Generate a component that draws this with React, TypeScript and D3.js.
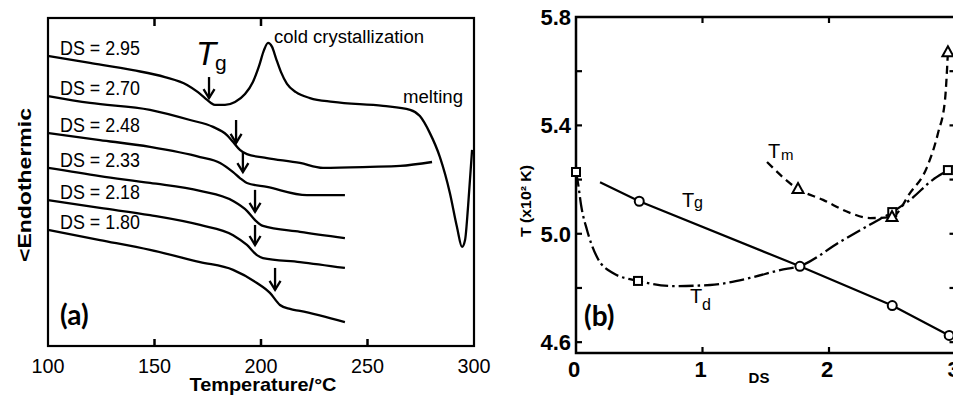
import * as d3 from "d3";

// ---------- (a) DSC traces: temperature (°C), heat flow (arb. units, traces offset) ----------
const dsLabels = ["DS = 2.95", "DS = 2.70", "DS = 2.48", "DS = 2.33", "DS = 2.18", "DS = 1.80"];

const trace295: [number, number][] = [
  [100, 88.4], [119.7, 86.3], [139.9, 84.1], [154.9, 82.0], [165.3, 79.6], [170.4, 77.4],
  [173.7, 75.6], [176.5, 74.1], [178.4, 73.5], [183.1, 73.5], [187.8, 74.4], [192.5, 76.8],
  [196.2, 80.5], [199.1, 85.4], [201.4, 90.2], [203.3, 92.4], [205.2, 91.2], [207.0, 87.8],
  [209.4, 83.5], [212.2, 79.9], [216.4, 77.4], [223.0, 75.6], [233.8, 74.4], [257.3, 73.2],
  [270.0, 72.0], [274.6, 70.1], [279.3, 64.9], [284.0, 57.6], [288.7, 46.6], [292.0, 36.3],
  [294.4, 30.2], [295.8, 32.3], [297.2, 42.4], [299.1, 59.8],
];
const trace270: [number, number][] = [
  [100, 76.2], [119.7, 74.1], [147.9, 72.0], [166.7, 68.9], [177.5, 66.8], [184.0, 64.3],
  [186.9, 62.2], [190.1, 59.8], [193.4, 58.5], [202.8, 57.3], [218.3, 55.8], [229.1, 54.3],
  [251.2, 54.6], [265.3, 54.9], [280.3, 56.1],
];
const trace248: [number, number][] = [
  [100, 64.9], [124.4, 62.8], [147.9, 60.7], [171.4, 57.6], [180.8, 55.8], [186.9, 53.0],
  [190.1, 51.2], [193.4, 49.7], [202.8, 48.5], [221.6, 46.0], [239.4, 46.0],
];
const trace233: [number, number][] = [
  [100, 54.3], [124.4, 51.8], [147.9, 49.7], [171.4, 47.3], [186.9, 44.2], [193.4, 41.2],
  [197.2, 38.4], [200.9, 36.6], [218.3, 34.8], [239.4, 32.9],
];
const trace218: [number, number][] = [
  [100, 44.5], [124.4, 42.1], [147.9, 39.9], [171.4, 36.9], [186.9, 33.8], [193.4, 30.8],
  [198.1, 27.7], [200.9, 26.8], [218.3, 25.6], [239.4, 23.8],
];
const trace180: [number, number][] = [
  [100, 35.4], [124.4, 32.3], [147.9, 29.3], [171.4, 25.6], [186.9, 23.2], [198.1, 19.2],
  [204.2, 16.2], [208.9, 12.5], [213.6, 11.3], [218.3, 10.7], [239.4, 7.3],
];
const traces = [trace295, trace270, trace248, trace233, trace218, trace180];

// Tg arrows: temperature, top, tip
const tgArrows: [number, number, number][] = [
  [175.6, 82.0, 75.6], [188.3, 68.9, 61.9], [191.5, 59.1, 53.0],
  [197.2, 47.6, 40.9], [197.2, 36.9, 30.8], [206.6, 23.8, 17.1],
];
const tempTicks = [100, 150, 200, 250, 300];

// ---------- (b) transition temperatures vs DS (T in 10^2 K) ----------
const tgPoints: [number, number][] = [[0.5, 5.12], [1.77, 4.88], [2.5, 4.735], [2.95, 4.625]];
const tgLine: [number, number][] = [[0.19, 5.19], [0.5, 5.12], [1.77, 4.88], [2.5, 4.735], [2.95, 4.625], [3.05, 4.605]];
const tdPoints: [number, number][] = [[0, 5.228], [0.49, 4.826], [2.5, 5.08], [2.94, 5.235]];
const tdCurve: [number, number][] = [
  [0, 5.228], [0.016, 5.187], [0.04, 5.106], [0.087, 5.014], [0.166, 4.914], [0.292, 4.855],
  [0.49, 4.826], [0.767, 4.807], [1.06, 4.811], [1.375, 4.837], [1.613, 4.866], [1.771, 4.881],
  [2.087, 4.97], [2.348, 5.04], [2.5, 5.08], [2.64, 5.125], [2.82, 5.199], [2.94, 5.235], [3.05, 5.27],
];
const tmPoints: [number, number][] = [[1.755, 5.165], [2.498, 5.062], [2.94, 5.67]];
const tmCurve: [number, number][] = [
  [1.51, 5.265], [1.755, 5.165], [1.953, 5.125], [2.166, 5.077], [2.324, 5.058], [2.498, 5.062],
  [2.64, 5.15], [2.775, 5.246], [2.862, 5.372], [2.917, 5.494], [2.94, 5.67],
];
const dsTicks = [0, 1, 2, 3];
const tTickLabels = [4.6, 5.0, 5.4, 5.8];
const tMinorTicks = [4.6, 4.8, 5.0, 5.2, 5.4, 5.6];

export default function App() {
  const xA = d3.scaleLinear().domain([100, 300]).range([48, 474]);
  const yA = d3.scaleLinear().domain([0, 100]).range([346, 18]);
  const xB = d3.scaleLinear().domain([0, 3]).range([576, 955.5]);
  const yB = d3.scaleLinear().domain([4.56, 5.8]).range([353, 17]);

  const lineA = d3.line<[number, number]>().x((d) => xA(d[0])).y((d) => yA(d[1])).curve(d3.curveMonotoneX);
  const lineB = d3.line<[number, number]>().x((d) => xB(d[0])).y((d) => yB(d[1])).curve(d3.curveMonotoneX);
  const lineBStraight = d3.line<[number, number]>().x((d) => xB(d[0])).y((d) => yB(d[1]));

  const fa = "'Liberation Sans', Arial, sans-serif";
  const tri = (cx: number, cy: number) => `M${cx},${cy - 6} L${cx + 5.5},${cy + 4} L${cx - 5.5},${cy + 4} Z`;

  return (
    <svg width={953} height={396} style={{ position: "absolute", left: 0, top: 0, background: "#fff" }}>
      {/* ---------------- panel (a) ---------------- */}
      <rect x={48} y={18} width={426} height={328} fill="none" stroke="#000" strokeWidth={2.2} />
      {tempTicks.slice(1, 4).map((t) => (
        <line key={"b" + t} x1={xA(t)} x2={xA(t)} y1={346} y2={339} stroke="#000" strokeWidth={2.5} />
      ))}
      {[150, 200].map((t) => (
        <line key={"t" + t} x1={xA(t)} x2={xA(t)} y1={18} y2={26} stroke="#000" strokeWidth={2.5} />
      ))}
      {tempTicks.map((t) => (
        <text key={t} x={xA(t)} y={373} textAnchor="middle" fontFamily={fa} fontSize={21}
          textLength={33} lengthAdjust="spacingAndGlyphs">{t}</text>
      ))}
      <text x={263} y={391} textAnchor="middle" fontFamily={fa} fontSize={19} fontWeight="bold"
        textLength={147} lengthAdjust="spacingAndGlyphs">Temperature/°C</text>
      <text transform="translate(31,185) rotate(-90)" textAnchor="middle" fontFamily={fa} fontSize={18}
        fontWeight="bold" textLength={154} lengthAdjust="spacingAndGlyphs">&lt;Endothermic</text>

      {traces.map((tr, i) => (
        <path key={i} d={lineA(tr)!} fill="none" stroke="#000" strokeWidth={2.3} />
      ))}
      {traces.map((tr, i) => (
        <text key={"l" + i} x={60} y={yA(tr[0][1]) - 1} fontFamily={fa} fontSize={20}
          textLength={80} lengthAdjust="spacingAndGlyphs">{dsLabels[i]}</text>
      ))}
      {tgArrows.map(([t, top, tip], i) => {
        const x = xA(t), y1 = yA(top), y2 = yA(tip);
        return (
          <g key={"a" + i} stroke="#000" strokeWidth={2.3} fill="none">
            <line x1={x} x2={x} y1={y1} y2={y2} />
            <path d={`M${x - 5.5},${y2 - 9} L${x},${y2} L${x + 5.5},${y2 - 9}`} />
          </g>
        );
      })}
      <text x={196} y={65} fontFamily={fa} fontSize={33} fontStyle="italic">T</text>
      <text x={215} y={70} fontFamily={fa} fontSize={21}>g</text>
      <text x={274} y={43} fontFamily={fa} fontSize={18} textLength={150} lengthAdjust="spacingAndGlyphs">cold crystallization</text>
      <text x={403} y={103} fontFamily={fa} fontSize={18} textLength={60} lengthAdjust="spacingAndGlyphs">melting</text>
      <text x={60} y={325} fontFamily="Lato, sans-serif" fontSize={28} fontWeight="bold">(a)</text>

      {/* ---------------- panel (b) ---------------- */}
      <rect x={576} y={17} width={379.5} height={336} fill="none" stroke="#000" strokeWidth={2.5} />
      {tMinorTicks.map((t) => (
        <g key={"ty" + t} stroke="#000" strokeWidth={2.2}>
          <line x1={576} x2={582} y1={yB(t)} y2={yB(t)} />
          <line x1={955.5} x2={949.5} y1={yB(t)} y2={yB(t)} />
        </g>
      ))}
      {[1, 2].map((d) => (
        <g key={"tx" + d} stroke="#000" strokeWidth={2.2}>
          <line x1={xB(d)} x2={xB(d)} y1={353} y2={347} />
          <line x1={xB(d)} x2={xB(d)} y1={17} y2={23} />
        </g>
      ))}
      {tTickLabels.map((t) => (
        <text key={"yl" + t} x={571} y={yB(t)} dy="0.36em" textAnchor="end" fontFamily={fa}
          fontSize={22} fontWeight="bold">{t.toFixed(1)}</text>
      ))}
      {dsTicks.map((d) => (
        <text key={"xl" + d} x={xB(d) - 2} y={377} textAnchor="middle" fontFamily={fa}
          fontSize={22} fontWeight="bold">{d}</text>
      ))}
      <text x={759} y={383} textAnchor="middle" fontFamily={fa} fontSize={15} fontWeight="bold">DS</text>
      <text transform="translate(531,201) rotate(-90)" textAnchor="middle" fontFamily={fa} fontSize={14}
        fontWeight="bold" textLength={72} lengthAdjust="spacingAndGlyphs">T (x10² K)</text>

      <path d={lineBStraight(tgLine)!} fill="none" stroke="#000" strokeWidth={2.2} />
      <path d={lineB(tdCurve)!} fill="none" stroke="#000" strokeWidth={2.3} strokeDasharray="15 4 2.5 4" />
      <path d={lineB(tmCurve)!} fill="none" stroke="#000" strokeWidth={2.3} strokeDasharray="8 5" />

      {tgPoints.map(([d, t], i) => (
        <circle key={"c" + i} cx={xB(d)} cy={yB(t)} r={4.5} fill="#fff" stroke="#000" strokeWidth={2} />
      ))}
      {tdPoints.map(([d, t], i) => (
        <rect key={"s" + i} x={xB(d) - 4} y={yB(t) - 4} width={8} height={8} fill="#fff" stroke="#000" strokeWidth={2} />
      ))}
      {tmPoints.map(([d, t], i) => (
        <path key={"m" + i} d={tri(xB(d), yB(t))} fill="#fff" stroke="#000" strokeWidth={2} />
      ))}

      <text x={682} y={207} fontFamily={fa} fontSize={20}>T</text>
      <text x={694} y={208} fontFamily={fa} fontSize={16}>g</text>
      <text x={690} y={303} fontFamily={fa} fontSize={20}>T</text>
      <text x={702} y={310} fontFamily={fa} fontSize={16}>d</text>
      <text x={768} y={158} fontFamily={fa} fontSize={20}>T</text>
      <text x={781} y={160} fontFamily={fa} fontSize={15}>m</text>
      <text x={584} y={326} fontFamily="Lato, sans-serif" fontSize={28} fontWeight="bold">(b)</text>
    </svg>
  );
}
